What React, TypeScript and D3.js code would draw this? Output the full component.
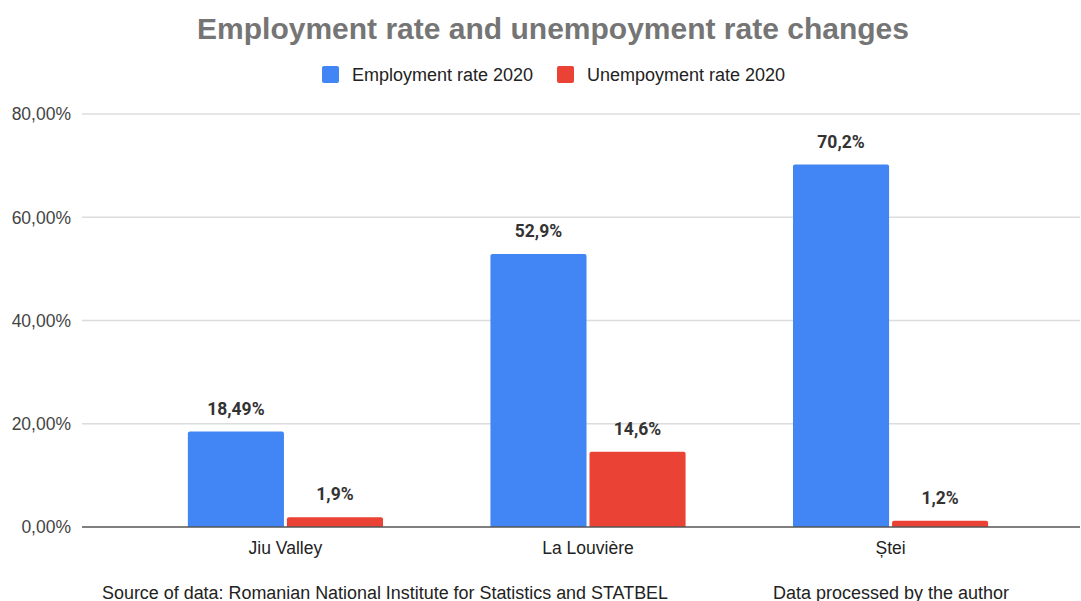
import React from "react";
import * as d3 from "d3";

const categories = ["Jiu Valley", "La Louvière", "Ștei"];
const seriesNames = ["Employment rate 2020", "Unempoyment rate 2020"];
const employment = [18.49, 52.9, 70.2];
const unemployment = [1.9, 14.6, 1.2];
const employmentLabels = ["18,49%", "52,9%", "70,2%"];
const unemploymentLabels = ["1,9%", "14,6%", "1,2%"];
const yTicks = [0, 20, 40, 60, 80];
const colors = ["#4285F4", "#EA4335"];

const W = 1081;
const H = 601;

export default function App() {
  const y = d3.scaleLinear().domain([0, 80]).range([527, 114]);
  const x0 = d3.scaleBand().domain(categories).range([134, 1042]).paddingInner(0.355).paddingOuter(0.178);
  const x1 = d3.scaleBand().domain(seriesNames).range([0, x0.bandwidth()]).paddingInner(0.03);
  const fmt = (v: number) => v.toFixed(2).replace(".", ",") + "%";
  const series = [
    { name: seriesNames[0], values: employment, labels: employmentLabels, color: colors[0] },
    { name: seriesNames[1], values: unemployment, labels: unemploymentLabels, color: colors[1] },
  ];
  const font = "Roboto, Arial, sans-serif";
  const sans = "Arial, Liberation Sans, sans-serif";
  return (
    <svg width={W} height={H} style={{ position: "absolute", left: 0, top: 0, background: "#fff" }} fontFamily={font}>
      <rect width={W} height={H} fill="#fff" />
      <text x={553} y={39} textAnchor="middle" fontSize={30} fontWeight="bold" fill="#757575" fontFamily={sans}>
        Employment rate and unempoyment rate changes
      </text>
      {/* legend */}
      <g>
        <rect x={322} y={66} width={17} height={17} rx={2} fill={colors[0]} />
        <text x={352} y={81} fontSize={18} fill="#222" fontFamily={sans}>{seriesNames[0]}</text>
        <rect x={557} y={66} width={17} height={17} rx={2} fill={colors[1]} />
        <text x={587} y={81} fontSize={18} fill="#222" fontFamily={sans}>{seriesNames[1]}</text>
      </g>
      {/* grid */}
      {yTicks.map((t) => (
        <g key={t}>
          {t !== 0 && <line x1={82} x2={1080} y1={y(t)} y2={y(t)} stroke="#dcdcdc" strokeWidth={1.5} />}
          <text x={71} y={y(t) + 6.3} textAnchor="end" fontSize={17.5} fill="#444" fontFamily={sans}>
            {fmt(t)}
          </text>
        </g>
      ))}
      {/* bars */}
      {categories.map((c, i) => (
        <g key={c} transform={`translate(${x0(c)},0)`}>
          {series.map((s) => {
            const bx = x1(s.name)!;
            const top = y(s.values[i]);
            return (
              <g key={s.name}>
                <path
                  d={`M${bx},${y(0)} V${top + 2} Q${bx},${top} ${bx + 2},${top} H${bx + x1.bandwidth() - 2} Q${bx + x1.bandwidth()},${top} ${bx + x1.bandwidth()},${top + 2} V${y(0)} Z`}
                  fill={s.color}
                />
                <text x={bx + x1.bandwidth() / 2} y={top - 17} textAnchor="middle" fontSize={17.5} fontWeight="bold" fill="#333">
                  {s.labels[i]}
                </text>
              </g>
            );
          })}
          <text x={x0.bandwidth() / 2} y={553.5} textAnchor="middle" fontSize={17.5} fill="#222" fontFamily={sans}>
            {c}
          </text>
        </g>
      ))}
      <line x1={82} x2={1080} y1={y(0)} y2={y(0)} stroke="#555" strokeWidth={1.5} />
      <text x={102} y={598.5} fontSize={18} fill="#222" fontFamily={sans} textLength={566} lengthAdjust="spacingAndGlyphs">
        Source of data: Romanian National Institute for Statistics and STATBEL
      </text>
      <text x={773} y={598.5} fontSize={18} fill="#222" fontFamily={sans} textLength={236} lengthAdjust="spacingAndGlyphs">
        Data processed by the author
      </text>
    </svg>
  );
}
